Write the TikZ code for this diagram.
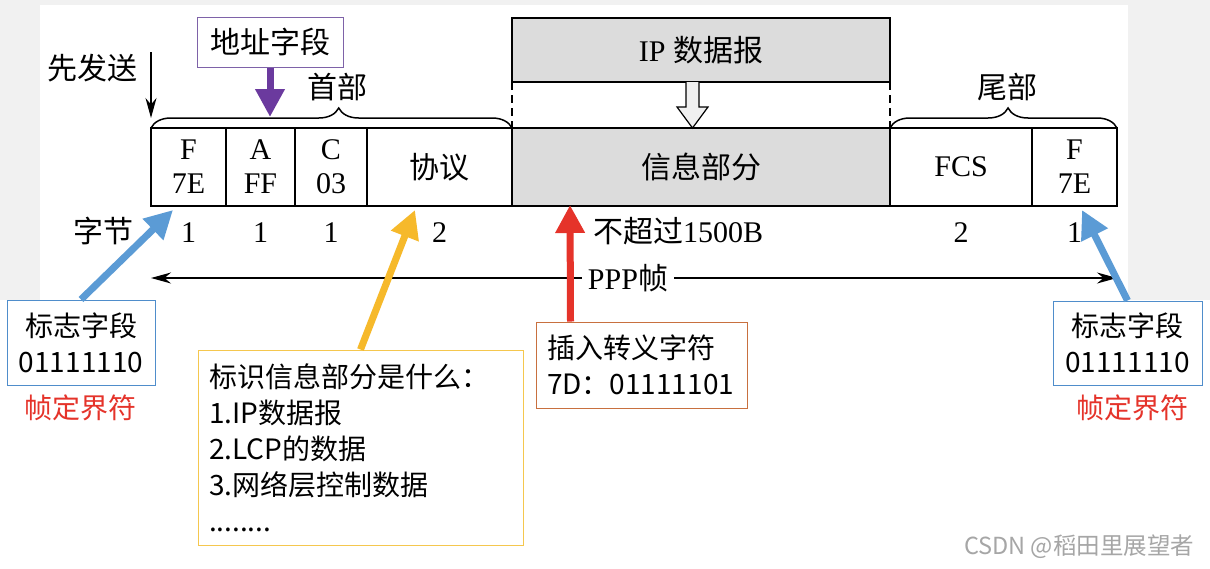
\documentclass[tikz,border=0pt]{standalone}
\usepackage{fontspec}
\setmainfont{Liberation Serif}
\newfontfamily\cjk{Noto Sans CJK SC}
\usetikzlibrary{arrows.meta,positioning,decorations.pathreplacing,calc}
\definecolor{ipgray}{HTML}{DCDCDC}
\definecolor{margingray}{HTML}{F1F1F1}
\definecolor{markblue}{HTML}{5B9BD5}
\definecolor{noteblue}{HTML}{4F8DCB}
\definecolor{markyellow}{HTML}{F6B92B}
\definecolor{boxyellow}{HTML}{F5C74E}
\definecolor{markred}{HTML}{E5332A}
\definecolor{boxred}{HTML}{C8703F}
\definecolor{markpurple}{HTML}{6B3A9E}
\definecolor{boxpurple}{HTML}{7E62A8}

\newcommand\cellfont{\fontsize{30}{34}\selectfont}
\newcommand\notefont{\cjk\fontsize{28}{36}\selectfont}

\begin{document}
\begin{tikzpicture}[x=1pt, y=-1pt, >={Stealth[length=20pt,width=11pt]},
  cell/.style={draw, line width=1.5pt, outer sep=0pt, inner sep=0pt, minimum height=78pt, align=center, font=\cellfont},
  lbl/.style={inner sep=1pt, font=\cellfont},
  notebox/.style={draw, line width=1pt, fill=white, inner sep=0pt, font=\notefont},
  fat/.style={line width=7pt, -{Triangle[length=28pt,width=28pt]}},
  brc/.style={decorate, decoration={brace, amplitude=20pt, aspect=0.52}, line width=1.5pt}]
  \useasboundingbox (0,0) rectangle (1210,568);
  % page
  \fill[white] (0,0) rectangle (1210,568);
  \fill[margingray] (0,0) rectangle (40,300);
  \fill[margingray] (1128,0) rectangle (1210,300);
  \fill[margingray] (0,0) rectangle (1210,5);
  % frame fields
  \node[cell, minimum width=75pt] (f1) at (188.5,167) {F\\7E};
  \node[cell, minimum width=69pt, right=0pt of f1] (addr) {A\\FF};
  \node[cell, minimum width=72pt, right=0pt of addr] (ctrl) {C\\03};
  \node[cell, minimum width=145pt, right=0pt of ctrl] (proto) {\cjk 协议};
  \node[cell, fill=ipgray, minimum width=378pt, right=0pt of proto] (info) {\cjk 信息部分};
  \node[cell, minimum width=142pt, right=0pt of info] (fcs) {FCS};
  \node[cell, minimum width=85pt, right=0pt of fcs] (f2) {F\\7E};
  % ip datagram
  \node[cell, fill=ipgray, minimum width=378pt, minimum height=64pt, above=46pt of info] (ip) {IP {\cjk 数据报}};
  \draw[line width=1.5pt, dash pattern=on 8pt off 5pt] (ip.south west) -- (info.north west);
  \draw[line width=1.5pt, dash pattern=on 8pt off 5pt] (ip.south east) -- (info.north east);
  \draw[line width=1.2pt, fill=gray!12] ($(ip.south)+(-15,0)$) -- ++(0,25) -- ++(-9,0)
    -- ($(info.north)+(-8.5,0)$) -- ($(ip.south)+(7,25)$) -- ++(-9,0) -- ($(ip.south)+(-2,0)$);
  % braces
  \draw[brc] (f1.north west) -- (proto.north east);
  \draw[brc] (fcs.north west) -- (f2.north east);
  \node[lbl] (head) at (337,87) {\cjk 首部};
  \node[lbl] (tail) at (1007,87) {\cjk 尾部};
  % send first
  \node[lbl] (first) at (92,68) {\cjk 先发送};
  \coordinate (sendtop) at (151,52);
  \coordinate (sendend) at (151,118);
  \draw[->, line width=1.5pt] (sendtop) -- (sendend);
  % byte counts
  \node[lbl, anchor=base] (bytes) at (103,242) {\cjk 字节};
  \node[lbl, anchor=base] (n1) at (f1 |- 0,242) {1};
  \node[lbl, anchor=base] (n2) at (addr |- 0,242) {1};
  \node[lbl, anchor=base] (n3) at (ctrl |- 0,242) {1};
  \node[lbl, anchor=base] (n4) at (proto |- 0,242) {2};
  \node[lbl, anchor=base] (n5) at (678,242) {{\cjk 不超过}1500B};
  \node[lbl, anchor=base] (n6) at (fcs |- 0,242) {2};
  \node[lbl, anchor=base] (n7) at (f2 |- 0,242) {1};
  % ppp frame
  \node[lbl, inner xsep=6pt] (ppp) at (628,278) {PPP{\cjk 帧}};
  \coordinate (pppL) at (f1.west |- ppp);
  \coordinate (pppR) at (f2.east |- ppp);
  \draw[->, line width=1.5pt] (ppp) -- (pppL);
  \draw[->, line width=1.5pt] (ppp) -- (pppR);
  % notes
  \node[notebox, draw=boxpurple, minimum width=146pt, minimum height=50pt, font=\cjk\cellfont] (addrnote) at (270,42) {地址字段};
  \node[notebox, draw=noteblue, minimum width=148pt, minimum height=85pt, align=center] (flagL) at (81,342.5) {标志字段\\01111110};
  \node[notebox, draw=noteblue, minimum width=149pt, minimum height=84pt, align=center] (flagR) at (1127.5,343) {标志字段\\01111110};
  \node[lbl, font=\notefont, text=markred] (delimL) at (80,408) {帧定界符};
  \node[lbl, font=\notefont, text=markred] (delimR) at (1132,408) {帧定界符};
  \node[notebox, draw=boxyellow, minimum width=325pt, minimum height=195pt, text width=303pt, align=left] (protonote) at (360.5,447.5)
    {标识信息部分是什么：\\1.IP数据报\\2.LCP的数据\\3.网络层控制数据\\........};
  \node[notebox, draw=boxred, minimum width=211pt, minimum height=86pt, text width=189pt, align=left] (escnote) at (641.5,365)
    {插入转义字符\\7D：01111101};
  % pointers
  \coordinate (addrtip) at (addrnote.south |- 0,117);
  \coordinate (ftipL) at (173,210);
  \coordinate (ftipR) at (1082,210);
  \coordinate (ptip) at (415,210);
  \coordinate (etip) at (570,205);
  \draw[fat, markpurple] (addrnote.south) -- (addrtip);
  \draw[fat, markblue] (flagL.north) -- (ftipL);
  \draw[fat, markblue] (flagR.north) -- (ftipR);
  \draw[fat, markyellow] (protonote.north) -- (ptip);
  \draw[fat, markred] ($(escnote.north west)+(35,0)$) -- (etip);
  % watermark
  \node[text=gray!70, font=\cjk\fontsize{23.5}{26}\selectfont] (mark) at (1079,547) {CSDN @稻田里展望者};
\end{tikzpicture}
\end{document}
